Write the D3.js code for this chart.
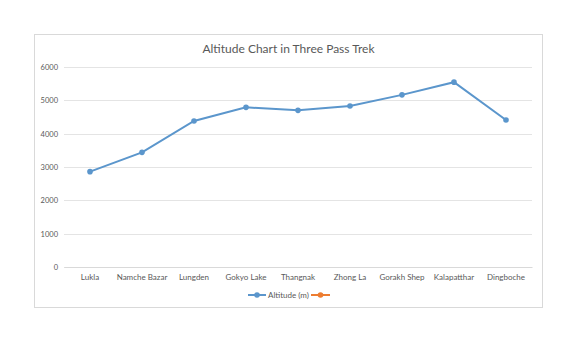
<!DOCTYPE html>
<html><head><meta charset="utf-8">
<script src="https://cdn.jsdelivr.net/npm/d3@7"></script>
<style>body{margin:0;background:#fff;}svg{display:block;font-family:Lato,"Open Sans",sans-serif;}</style>
</head><body><svg id="c" width="570" height="343"></svg>
<script>
const categories = ["Lukla","Namche Bazar","Lungden","Gokyo Lake","Thangnak","Zhong La","Gorakh Shep","Kalapatthar","Dingboche"];
const altitude = [2860,3440,4380,4790,4700,4830,5164,5545,4410];
const yTicks = [0,1000,2000,3000,4000,5000,6000];
const title = "Altitude Chart in Three Pass Trek";
const seriesName = "Altitude (m)";

const svg = d3.select("#c");
svg.append("rect").attr("x",34.5).attr("y",34.5).attr("width",508).attr("height",273)
  .attr("fill","#fff").attr("stroke","#d9d9d9");
svg.append("text").attr("x",288.5).attr("y",53).attr("text-anchor","middle")
  .attr("font-size",12).attr("fill","#595959").text(title);

const x = d3.scaleBand().domain(categories).range([64,532]);
const y = d3.scaleLinear().domain([0,6000]).range([267,67]);

const grid = svg.append("g");
grid.selectAll("line").data(yTicks).join("line")
  .attr("x1",64).attr("x2",532).attr("y1",d=>Math.round(y(d))+0.5).attr("y2",d=>Math.round(y(d))+0.5)
  .attr("stroke","#e4e4e4").attr("stroke-width",1);

const yAxis = svg.append("g").attr("transform","translate(58,0)")
  .call(d3.axisLeft(y).tickValues(yTicks).tickSize(0).tickPadding(0).tickFormat(d3.format("d")));
yAxis.select(".domain").remove();
yAxis.selectAll("text").attr("font-size",7.5).attr("fill","#595959").attr("font-family","Lato,'Open Sans',sans-serif");

const xAxis = svg.append("g").attr("transform","translate(0,267)")
  .call(d3.axisBottom(x).tickSize(0).tickPadding(7));
xAxis.select(".domain").attr("stroke","#d9d9d9");
xAxis.selectAll("text").attr("font-size",8).attr("fill","#595959").attr("font-family","Lato,'Open Sans',sans-serif");

const cx = d => x(d) + x.bandwidth()/2;
const blue = "#5b96cc", orange = "#ed7d31";
svg.append("path").datum(altitude)
  .attr("d", d3.line().x((d,i)=>cx(categories[i])).y(d=>y(d)))
  .attr("fill","none").attr("stroke",blue).attr("stroke-width",2);
svg.append("g").selectAll("circle").data(altitude).join("circle")
  .attr("cx",(d,i)=>cx(categories[i])).attr("cy",d=>y(d)).attr("r",2.8).attr("fill",blue);

// legend
const lg = svg.append("g").attr("transform","translate(0,295)");
lg.append("line").attr("x1",248).attr("x2",266).attr("stroke",blue).attr("stroke-width",2);
lg.append("circle").attr("cx",257).attr("r",2.8).attr("fill",blue);
lg.append("text").attr("x",268).attr("y",3).attr("font-size",8).attr("fill","#595959").text(seriesName);
lg.append("line").attr("x1",311).attr("x2",330).attr("stroke",orange).attr("stroke-width",2);
lg.append("circle").attr("cx",320.5).attr("r",2.8).attr("fill",orange);
</script></body></html>
